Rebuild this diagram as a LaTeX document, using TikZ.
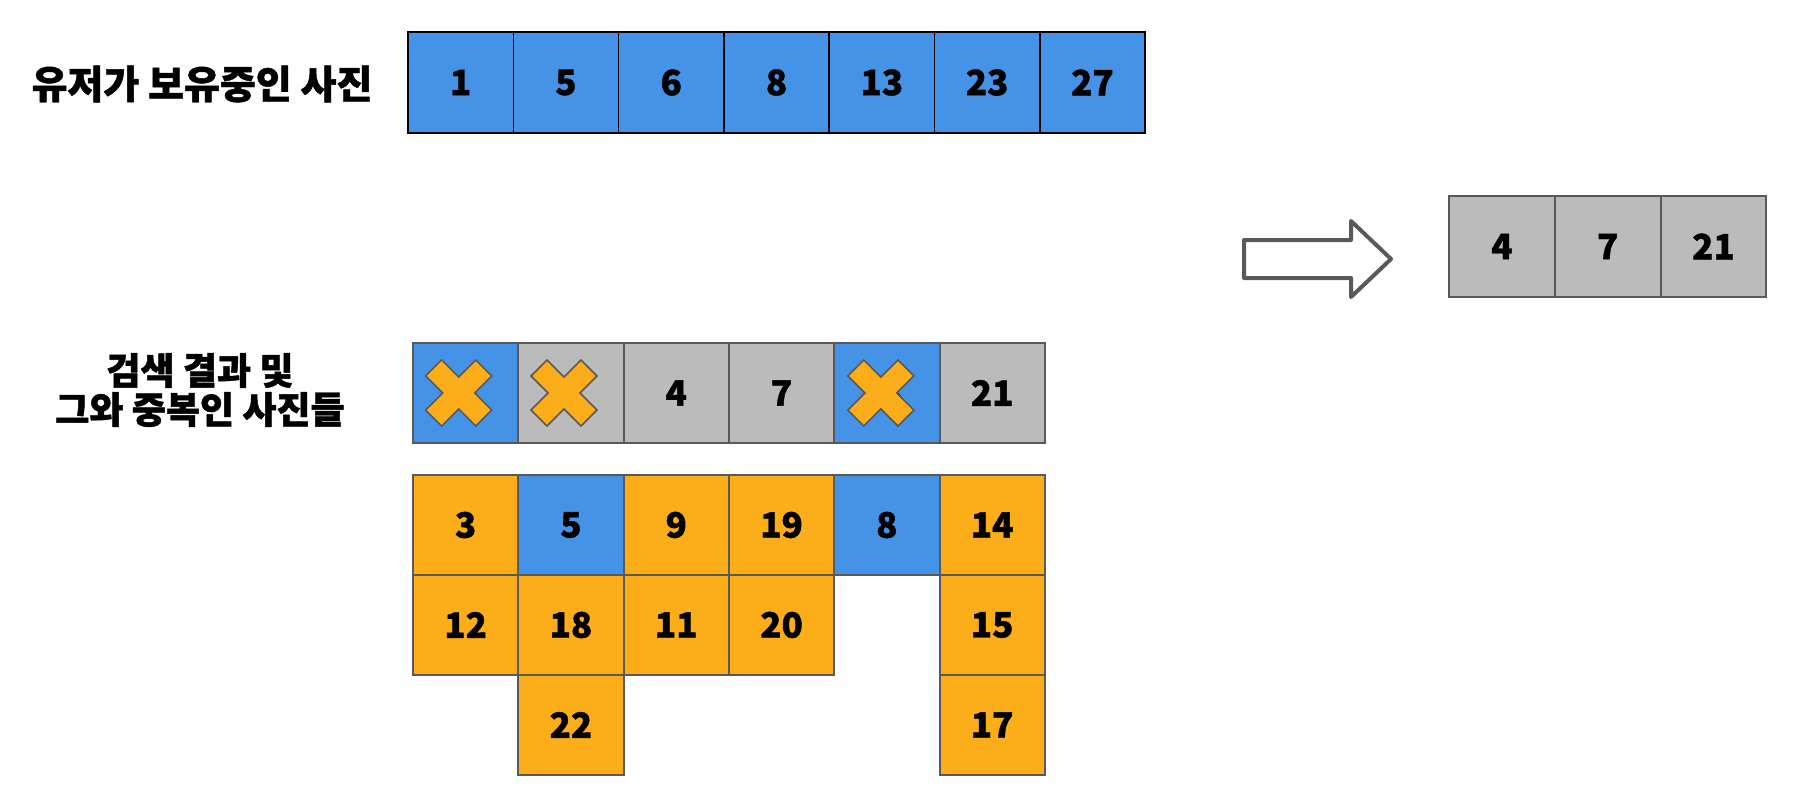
\documentclass[tikz,border=0pt]{standalone}
\usepackage{fontspec}
\setmainfont{Noto Sans CJK KR}
\newfontfamily\kr{Noto Sans CJK KR}[BoldFeatures={FakeBold=1.2}]
\definecolor{cblue}{HTML}{4593E6}
\definecolor{cgray}{HTML}{BBBBBB}
\definecolor{corange}{HTML}{FCAE1A}
\definecolor{cline}{HTML}{595959}
\tikzset{
  cellbox/.style={draw=cline, line width=2pt, minimum width=105.3pt, minimum height=100pt, inner sep=0pt, font=\kr\bfseries\fontsize{35}{40}\selectfont},
  topcell/.style={cellbox, draw=black, line width=1.5pt, fill=cblue, minimum height=101pt},
  bluecell/.style={cellbox, fill=cblue},
  graycell/.style={cellbox, fill=cgray},
  orcell/.style={cellbox, fill=corange},
  rescell/.style={cellbox, fill=cgray, minimum width=105.8pt, minimum height=101pt},
  digit/.style={inner sep=0pt, font=\kr\bfseries\fontsize{36}{40}\selectfont},
  titletext/.style={font=\kr\bfseries\fontsize{39}{44}\selectfont, inner sep=0pt},
  xmark/.pic={
    \draw[draw=cline, line width=1.6pt, fill=corange, line join=miter, rotate=45]
      (11.3,11.3) -- (11.3,35.4) -- (-11.3,35.4) -- (-11.3,11.3) -- (-35.4,11.3) -- (-35.4,-11.3)
      -- (-11.3,-11.3) -- (-11.3,-35.4) -- (11.3,-35.4) -- (11.3,-11.3) -- (35.4,-11.3) -- (35.4,11.3) -- cycle;
  }
}
\begin{document}
\begin{tikzpicture}[x=1pt,y=-1pt]
\useasboundingbox[fill=white] (0,0) rectangle (1798,808);

% titles
\node[titletext] (title1) at (202,84) {유저가 보유중인 사진};
\node[titletext, align=center, font=\kr\bfseries\fontsize{37}{39}\selectfont] (title2) at (200,390) {검색 결과 및\\그와 중복인 사진들};

% top row
\foreach \v [count=\i from 0] in {1,5,6,8,13,23,27}
  \node[topcell] (top\i) at ({408+52.65+\i*105.3},82.5) {\v};

% result row
\foreach \v [count=\i from 0] in {4,7,21}
  \node[rescell] (res\i) at ({1449+52.9+\i*105.8},246.5) {\v};

% arrow
\draw[cline, line width=4pt, line join=round, fill=white]
  (1244,240) -- (1351,240) -- (1351,221) -- (1391,259) -- (1351,297) -- (1351,278) -- (1244,278) -- cycle;

% middle row
\node[bluecell] (m0) at ({413+52.65},393) {};
\node[graycell] (m1) at ({413+52.65+105.3},393) {};
\node[graycell] (m2) at ({413+52.65+2*105.3},393) {4};
\node[graycell] (m3) at ({413+52.65+3*105.3},393) {7};
\node[bluecell] (m4) at ({413+52.65+4*105.3},393) {};
\node[graycell] (m5) at ({413+52.65+5*105.3},393) {21};
\node[digit] (m4d) at ([xshift=5pt]m4.center) {8};
\pic at ([xshift=-7pt]m0.center) {xmark};
\pic at ([xshift=-7pt]m1.center) {xmark};
\pic at ([xshift=-6pt]m4.center) {xmark};

% grid row 1
\node[orcell]   (g00) at ({413+52.65},525) {3};
\node[bluecell] (g01) at ({413+52.65+105.3},525) {5};
\node[orcell]   (g02) at ({413+52.65+2*105.3},525) {9};
\node[orcell]   (g03) at ({413+52.65+3*105.3},525) {19};
\node[bluecell] (g04) at ({413+52.65+4*105.3},525) {8};
\node[orcell]   (g05) at ({413+52.65+5*105.3},525) {14};
% grid row 2
\node[orcell] (g10) at ({413+52.65},625) {12};
\node[orcell] (g11) at ({413+52.65+105.3},625) {18};
\node[orcell] (g12) at ({413+52.65+2*105.3},625) {11};
\node[orcell] (g13) at ({413+52.65+3*105.3},625) {20};
\node[orcell] (g15) at ({413+52.65+5*105.3},625) {15};
% grid row 3
\node[orcell] (g21) at ({413+52.65+105.3},725) {22};
\node[orcell] (g25) at ({413+52.65+5*105.3},725) {17};
\end{tikzpicture}
\end{document}
